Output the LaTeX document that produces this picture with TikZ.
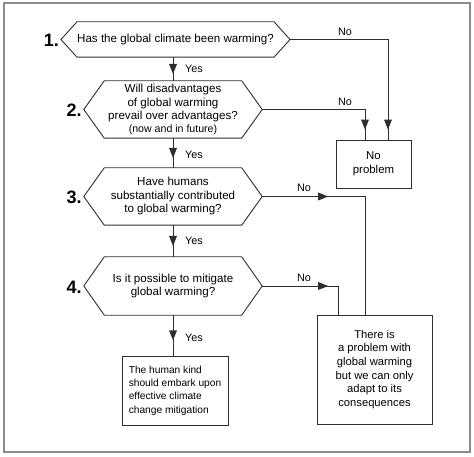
\documentclass[tikz,border=0pt]{standalone}
\usepackage{fontspec}
\setmainfont{Liberation Sans}
\usetikzlibrary{decorations.markings}
\definecolor{ln}{HTML}{2E2E2E}
\definecolor{framecol}{HTML}{8C8C8C}
\newcommand\hexdraw[3]{%
  \draw[line] (#1.north west) -- (#1.north east) -- ([xshift=#3]#1.east) -- (#1.south east)
    -- (#1.south west) -- ([xshift=-#2]#1.west) -- cycle;
  \coordinate (#1-r) at ([xshift=#3]#1.east);
  \coordinate (#1-l) at ([xshift=-#2]#1.west);}
\begin{document}
\begin{tikzpicture}[x=1pt,y=-1pt,
  line/.style={draw=ln, line width=0.9pt},
  hextext/.style={rectangle, inner sep=0pt, align=center, text=black,
    font=\fontsize{11.6}{13.5}\selectfont},
  boxnode/.style={draw=ln, line width=0.9pt, rectangle, inner sep=0pt, text=black},
  lab/.style={inner sep=0pt, text=black, font=\fontsize{10.8}{12}\selectfont},
  num/.style={inner sep=0pt, text=black, font=\fontsize{18}{20}\selectfont\bfseries},
  arrowat/.style={postaction={decorate}, decoration={markings,
    mark=at position #1 with {\fill[ln] (5pt,0pt) -- (-5pt,4pt) -- (-5pt,-4pt) -- cycle;}}}
]
\useasboundingbox (0,0) rectangle (474,457);
\draw[draw=framecol, line width=1.5pt] (4,3) rectangle (470,452);

% decision nodes
\node[hextext, minimum width=193pt, minimum height=35pt] (h1) at (175.5,39.5)
  {Has the global climate been warming?};
\node[hextext, minimum width=137pt, minimum height=57pt] (h2) at (173,109.5)
  {Will disadvantages\\of global warming\\prevail over advantages?\\[-1pt]{\fontsize{10.6}{12}\selectfont(now and in future)}};
\node[hextext, minimum width=137pt, minimum height=57pt] (h3) at (173,196.5)
  {Have humans\\substantially contributed\\to global warming?};
\node[hextext, minimum width=137pt, minimum height=58pt] (h4) at (173,286)
  {Is it possible to mitigate\\global warming?};
\hexdraw{h1}{16pt}{16pt}
\hexdraw{h2}{20.5pt}{20.5pt}
\hexdraw{h3}{20.5pt}{20.5pt}
\hexdraw{h4}{20.5pt}{20.5pt}

% numbers
\node[num, anchor=base east] (n1) at ([xshift=-2pt,yshift=-7.5pt]h1-l) {1.};
\node[num, anchor=base east] (n2) at ([xshift=-2pt,yshift=-7.5pt]h2-l) {2.};
\node[num, anchor=base east] (n3) at ([xshift=-2pt,yshift=-7.5pt]h3-l) {3.};
\node[num, anchor=base east] (n4) at ([xshift=-2pt,yshift=-7.5pt]h4-l) {4.};

% outcome boxes
\node[boxnode, minimum width=75pt, minimum height=48pt, align=center,
  font=\fontsize{11.4}{13.5}\selectfont] (np) at (373.5,164) {No\\problem};
\node[boxnode, minimum width=115pt, minimum height=109pt, align=center,
  font=\fontsize{11.2}{13.6}\selectfont] (adapt) at (374.5,369.5)
  {There is\\a problem with\\global warming\\but we can only\\adapt to its\\consequences};
\node[boxnode, minimum width=106pt, minimum height=69pt, align=left,
  font=\fontsize{10.2}{13.4}\selectfont] (mit) at (175,390.5)
  {The human kind\\should embark upon\\effective climate\\change mitigation};

% Yes connectors
\draw[line, arrowat=0.5] (h1.south -| h2.north) -- (h2.north);
\draw[line, arrowat=0.5] (h2.south) -- (h3.north);
\draw[line, arrowat=0.5] (h3.south) -- (h4.north);
\draw[line, arrowat=0.5] (h4.south) -- (h4.south |- mit.north);

% No connectors
\draw[line, arrowat=-15pt] (h1-r) -| ([xshift=14.5pt]np.north);
\draw[line, arrowat=-15pt] (h2-r) -| ([xshift=-8.5pt]np.north);
\draw[line, arrowat=61pt] (h3-r) -| ([xshift=-9.5pt]adapt.north);
\draw[line, arrowat=61pt] (h4-r) -| ([xshift=-36.5pt]adapt.north);

% labels
\node[lab] (y1) at (194,69) {Yes};
\node[lab] (y2) at (194,154.5) {Yes};
\node[lab] (y3) at (194,241) {Yes};
\node[lab] (y4) at (194,338) {Yes};
\node[lab] (no1) at (345,32) {No};
\node[lab] (no2) at (345,102) {No};
\node[lab] (no3) at (304,188) {No};
\node[lab] (no4) at (304,278) {No};
\end{tikzpicture}
\end{document}
